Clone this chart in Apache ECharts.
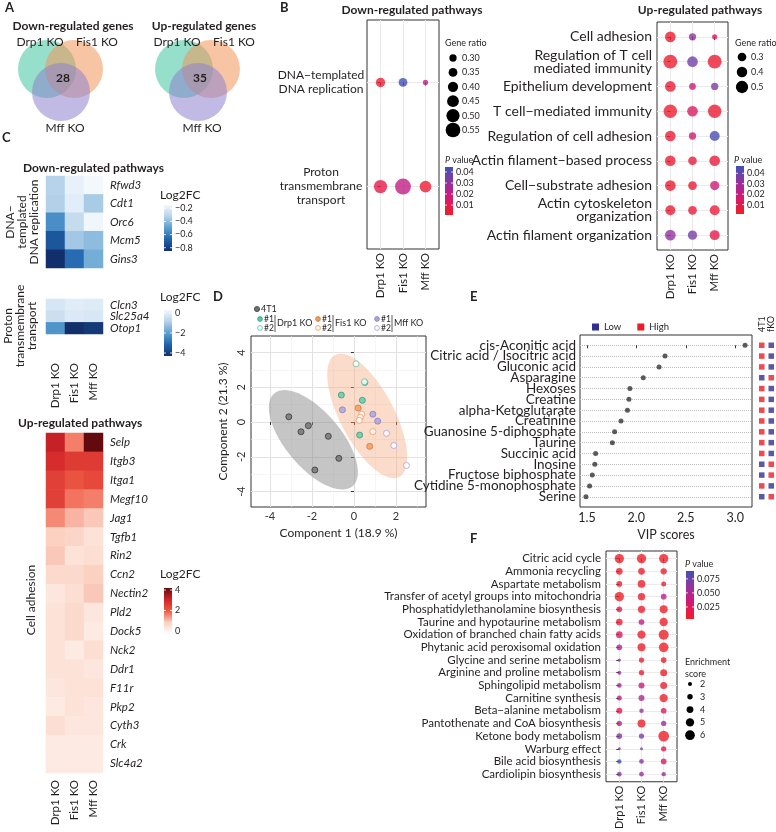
<!DOCTYPE html>
<html><head><meta charset="utf-8">
<script src="https://cdn.jsdelivr.net/npm/echarts@6.0.0/dist/echarts.min.js"></script>
<style>html,body{margin:0;padding:0;background:#fff;}#chart{width:776px;height:832px;}</style>
</head><body><div id="chart"></div>
<script>
// ================= DATA =================
const koGroups = ['Drp1 KO', 'Fis1 KO', 'Mff KO'];

// A: Venn diagrams
const vennTitles = ['Down-regulated genes', 'Up-regulated genes'];
const vennSetNames = ['Drp1 KO', 'Fis1 KO', 'Mff KO'];
const vennShared = [28, 35];

// B: pathway dot plots
const bDownPathways = ['DNA\u2212templated\nDNA replication', 'Proton\ntransmembrane\ntransport'];
const bDownGeneRatio = [[0.37, 0.35, 0.23], [0.50, 0.59, 0.45]];
const bDownPValue = [[0.004, 0.044, 0.022], [0.009, 0.021, 0.004]];
const bDownRatioTicks = [0.30, 0.35, 0.40, 0.45, 0.50, 0.55];
const bDownPTicks = [0.01, 0.02, 0.03, 0.04];

const bUpPathways = ['Cell adhesion', 'Regulation of T cell\nmediated immunity', 'Epithelium development',
  'T cell\u2212mediated immunity', 'Regulation of cell adhesion', 'Actin filament\u2212based process',
  'Cell\u2212substrate adhesion', 'Actin cytoskeleton\norganization', 'Actin filament organization'];
const bUpGeneRatio = [[0.41, 0.22, 0.11], [0.59, 0.41, 0.59], [0.41, 0.19, 0.22], [0.56, 0.41, 0.56],
  [0.41, 0.22, 0.37], [0.41, 0.30, 0.41], [0.41, 0.30, 0.33], [0.37, 0.30, 0.37], [0.41, 0.33, 0.37]];
const bUpPValue = [[0.004, 0.032, 0.012], [0.003, 0.038, 0.004], [0.005, 0.018, 0.036], [0.003, 0.014, 0.004],
  [0.005, 0.016, 0.045], [0.004, 0.006, 0.006], [0.004, 0.006, 0.018], [0.004, 0.005, 0.005], [0.032, 0.037, 0.010]];
const bUpRatioTicks = [0.3, 0.4, 0.5];
const bUpPTicks = [0.01, 0.02, 0.03, 0.04];

// C: heatmaps (Log2FC; columns = koGroups)
const cDnaGroup = 'DNA\u2212\ntemplated\nDNA replication';
const cDnaGenes = ['Rfwd3', 'Cdt1', 'Orc6', 'Mcm5', 'Gins3'];
const cDnaFC = [[-0.32, -0.18, -0.15], [-0.33, -0.20, -0.35], [-0.55, -0.28, -0.16], [-0.72, -0.36, -0.40], [-0.85, -0.65, -0.45]];
const cDnaTicks = [-0.2, -0.4, -0.6, -0.8];
const cProtonGroup = 'Proton\ntransmembrane\ntransport';
const cProtonGenes = ['Clcn3', 'Slc25a4', 'Otop1'];
const cProtonFC = [[-0.25, -0.05, -0.10], [-0.45, -0.15, -0.20], [-2.2, -4.3, -4.1]];
const cProtonTicks = [0, -2, -4];
const cAdhGroup = 'Cell adhesion';
const cAdhGenes = ['Selp', 'Itgb3', 'Itga1', 'Megf10', 'Jag1', 'Tgfb1', 'Rin2', 'Ccn2', 'Nectin2', 'Pld2',
  'Dock5', 'Nck2', 'Ddr1', 'F11r', 'Pkp2', 'Cyth3', 'Crk', 'Slc4a2'];
const cAdhFC = [[3.2, 1.6, 4.2], [2.9, 2.6, 2.6], [2.5, 2.1, 2.3], [2.5, 1.7, 1.6], [1.5, 1.1, 0.9],
  [0.8, 0.7, 0.4], [0.9, 0.4, 0.5], [0.6, 0.6, 0.8], [0.3, 0.5, 0.9], [0.4, 0.6, 0.3], [0.4, 0.6, 0.2],
  [0.4, 0.2, 0.5], [0.4, 0.4, 0.3], [0.3, 0.4, 0.4], [0.2, 0.4, 0.3], [0.5, 0.3, 0.3], [0.2, 0.2, 0.2], [0.2, 0.2, 0.2]];
const cAdhTicks = [4, 2, 0];

// D: PLS-DA scores
const d4T1 = [[-3.10, 0.30], [-2.17, -0.21], [-2.52, -0.56], [-1.22, -0.82], [-0.72, -2.09], [-1.86, -2.76]];
const dDrp1Rep1 = [[-0.60, 1.55], [0.40, 1.25], [0.27, -0.75], [0.52, 2.28]];
const dDrp1Rep2 = [[0.10, 3.35], [0.50, 2.32]];
const dFis1Rep1 = [[0.20, 0.80], [0.75, -1.40]];
const dFis1Rep2 = [[0.37, 0.45], [0.30, 0.28], [0.25, 0.10], [0.90, -0.55]];
const dMffRep1 = [[-0.55, 0.70], [0.90, 0.45], [1.13, 0.05]];
const dMffRep2 = [[1.55, -0.65], [1.90, -1.35], [2.50, -2.50]];
const dXTicks = [-4, -2, 0, 2];
const dYTicks = [-4, -2, 0, 2, 4];
const dXTitle = 'Component 1 (18.9 %)';
const dYTitle = 'Component 2 (21.3 %)';

// E: VIP scores
const eMetabolites = ['cis-Aconitic acid', 'Citric acid / Isocitric acid', 'Gluconic acid', 'Asparagine', 'Hexoses',
  'Creatine', 'alpha-Ketoglutarate', 'Creatinine', 'Guanosine 5-diphosphate', 'Taurine', 'Succinic acid',
  'Inosine', 'Fructose biphosphate', 'Cytidine 5-monophosphate', 'Serine'];
const eVip = [3.10, 2.29, 2.23, 2.07, 1.935, 1.925, 1.91, 1.845, 1.78, 1.757, 1.588, 1.58, 1.554, 1.527, 1.49];
const eColumns = ['4T1', 'fKO'];
const e4T1Level = ['High', 'High', 'High', 'Low', 'High', 'High', 'High', 'High', 'High', 'High', 'High', 'Low', 'Low', 'High', 'Low'];
const eKOLevel = ['Low', 'Low', 'Low', 'High', 'Low', 'Low', 'Low', 'Low', 'Low', 'Low', 'Low', 'High', 'High', 'Low', 'High'];
const eLevels = ['Low', 'High'];
const eXTicks = [1.5, 2.0, 2.5, 3.0];
const eXTitle = 'VIP scores';

// F: metabolite pathway enrichment
const fPathways = ['Citric acid cycle', 'Ammonia recycling', 'Aspartate metabolism', 'Transfer of acetyl groups into mitochondria',
  'Phosphatidylethanolamine biosynthesis', 'Taurine and hypotaurine metabolism', 'Oxidation of branched chain fatty acids',
  'Phytanic acid peroxisomal oxidation', 'Glycine and serine metabolism', 'Arginine and proline metabolism',
  'Sphingolipid metabolism', 'Carnitine synthesis', 'Beta\u2212alanine metabolism', 'Pantothenate and CoA biosynthesis',
  'Ketone body metabolism', 'Warburg effect', 'Bile acid biosynthesis', 'Cardiolipin biosynthesis'];
const fEnrich = [[5.7, 5.7, 5.7], [3.9, 3.9, 3.6], [3.2, 4.6, 2.7], [5.7, 4.3, 3.2], [3.2, 4.3, 4.8], [3.9, 3.2, 5.0],
  [3.9, 5.0, 6.2], [3.2, 4.8, 6.0], [1.5, 2.9, 3.2], [2.0, 2.9, 4.1], [2.5, 3.4, 4.1], [2.7, 3.4, 5.0],
  [3.4, 2.3, 3.2], [2.9, 4.8, 2.9], [3.2, 2.9, 6.7], [1.2, 1.3, 2.9], [2.3, 2.5, 3.2], [2.5, 2.5, 2.3]];
const fPValue = [[0.004, 0.004, 0.004], [0.005, 0.005, 0.005], [0.006, 0.005, 0.012], [0.004, 0.005, 0.045],
  [0.020, 0.006, 0.005], [0.010, 0.042, 0.004], [0.025, 0.006, 0.004], [0.052, 0.006, 0.004], [0.062, 0.008, 0.008],
  [0.060, 0.008, 0.006], [0.055, 0.038, 0.008], [0.045, 0.050, 0.006], [0.020, 0.058, 0.028], [0.050, 0.006, 0.058],
  [0.065, 0.070, 0.004], [0.065, 0.070, 0.022], [0.085, 0.065, 0.030], [0.065, 0.060, 0.060]];
const fPTicks = [0.025, 0.050, 0.075];
const fEnrichTicks = [2, 3, 4, 5, 6];

// ================= STYLE / LAYOUT =================
const FONT = 'Lato, "Open Sans", sans-serif';
const TXT = '#231f20';
const pColors = ['#ee1f27', '#e61a4c', '#cc1a7e', '#a52a97', '#7440a6', '#3f51b5'];
const blues = ['#132f6b', '#1f63ad', '#5a9fd0', '#b5d2ea', '#f3f8fd'];
const reds = ['#ffffff', '#fbd0c0', '#ef5a44', '#d1242a', '#620a0e'];
const bDownSize = r => 7.3 + (r - 0.30) * 29.6;
const bUpSize = r => 8.7 + (r - 0.30) * 18;
const fSize = s => 4 + (s - 2) * 1.43;

const G = [];
function txt(x, y, text, o = {}) {
  const st = {text, fill: o.color || TXT, fontSize: o.size || 12, fontFamily: FONT, fontWeight: o.weight || 'normal',
    fontStyle: o.style || 'normal', align: o.align || 'left', verticalAlign: o.va || 'middle'};
  if (o.lineHeight) st.lineHeight = o.lineHeight;
  if (o.rich) st.rich = o.rich;
  G.push({type: 'text', x, y, rotation: o.rot || 0, style: st, silent: true, z: 100});
}
function colorbar(x, y, w, h, min, max, colors, ticks, fmt) {
  G.push({type: 'rect', shape: {x, y, width: w, height: h}, silent: true, z: 100,
    style: {fill: {type: 'linear', x: 0, y: 1, x2: 0, y2: 0, global: false,
      colorStops: colors.map((c, i) => ({offset: i / (colors.length - 1), color: c}))}}});
  ticks.forEach(t => {
    const ty = y + h - (t - min) / (max - min) * h;
    G.push({type: 'line', shape: {x1: x, y1: ty, x2: x + 2, y2: ty}, style: {stroke: '#fff', lineWidth: 0.8}, silent: true, z: 101});
    G.push({type: 'line', shape: {x1: x + w - 2, y1: ty, x2: x + w, y2: ty}, style: {stroke: '#fff', lineWidth: 0.8}, silent: true, z: 101});
    txt(x + w + 3, ty, fmt(t), {size: 9});
  });
}
function sizeLegend(x, y0, step, ticks, sizeFn, labelX, fmt) {
  ticks.forEach((t, i) => {
    const y = y0 + i * step;
    G.push({type: 'circle', shape: {cx: x, cy: y, r: sizeFn(t) / 2}, style: {fill: '#000'}, silent: true, z: 100});
    txt(labelX, y, fmt(t), {size: 9});
  });
}

// ---------- panel letters & titles ----------
txt(5, 8, 'A', {weight: 'bold', size: 13});
txt(280, 8, 'B', {weight: 'bold', size: 13});
txt(2, 138, 'C', {weight: 'bold', size: 13});
txt(213, 297, 'D', {weight: 'bold', size: 13});
txt(470, 297, 'E', {weight: 'bold', size: 13});
txt(470, 539, 'F', {weight: 'bold', size: 13});
txt(412, 10, 'Down-regulated pathways', {weight: 'bold', size: 12, align: 'center'});
txt(700, 10, 'Up-regulated pathways', {weight: 'bold', size: 12, align: 'center'});
txt(23, 168, 'Down-regulated pathways', {weight: 'bold', size: 12});
txt(18, 423, 'Up-regulated pathways', {weight: 'bold', size: 12});

// ---------- A: Venn ----------
const vennFills = ['rgba(64,196,160,0.55)', 'rgba(242,150,90,0.55)', 'rgba(140,130,205,0.55)'];
[0, 1].forEach(k => {
  const ox = k * 137;
  const centres = [[47 + ox, 69], [74 + ox, 69], [61 + ox, 92]];
  centres.forEach((c, i) => G.push({type: 'circle', shape: {cx: c[0], cy: c[1], r: 29}, style: {fill: vennFills[i]}, silent: true, z: 50}));
  txt(k === 0 ? 73 : 204, 26, vennTitles[k], {weight: 'bold', size: 12, align: 'center'});
  txt(40 + ox, 42, vennSetNames[0], {align: 'center', size: 12});
  txt(97 + ox, 42, vennSetNames[1], {align: 'center', size: 12});
  txt(65 + ox, 128, vennSetNames[2], {align: 'center', size: 12});
  txt(63 + ox, 78, String(vennShared[k]), {weight: 'bold', size: 12, align: 'center'});
});

// ---------- B legends ----------
txt(445, 43, 'Gene ratio', {size: 9});
sizeLegend(453, 58, 14.4, bDownRatioTicks, bDownSize, 462, v => v.toFixed(2));
txt(445, 160, '{i|P} value', {size: 9, rich: {i: {fontStyle: 'italic', fontSize: 9, fontFamily: FONT}}});
colorbar(445, 167, 8, 48, 0.001, 0.0445, pColors, bDownPTicks, v => v.toFixed(2));
txt(735, 43, 'Gene ratio', {size: 9});
sizeLegend(742, 57, 15, bUpRatioTicks, bUpSize, 751, v => v.toFixed(1));
txt(734, 160, '{i|P} value', {size: 9, rich: {i: {fontStyle: 'italic', fontSize: 9, fontFamily: FONT}}});
colorbar(736, 166, 8, 48, 0.001, 0.047, pColors, bUpPTicks, v => v.toFixed(2));

// ---------- C legends / group labels ----------
txt(22, 222, cDnaGroup, {rot: Math.PI / 2, align: 'center', size: 12, lineHeight: 12});
txt(20, 326, cProtonGroup, {rot: Math.PI / 2, align: 'center', size: 12, lineHeight: 12});
txt(31, 600, cAdhGroup, {rot: Math.PI / 2, align: 'center', size: 12});
txt(160, 195, 'Log2FC', {size: 12});
colorbar(164, 205, 8, 46, -0.85, -0.15, blues, cDnaTicks, v => v.toFixed(1).replace('-', '\u2212'));
txt(160, 297, 'Log2FC', {size: 12});
colorbar(164, 310, 8, 46, -4.3, 0.3, blues, cProtonTicks, v => String(v).replace('-', '\u2212'));
txt(160, 574, 'Log2FC', {size: 12});
colorbar(164, 588, 8, 46, -0.3, 4.2, reds, cAdhTicks, v => String(v));

// ---------- D legend ----------
G.push({type: 'circle', shape: {cx: 257, cy: 309, r: 2.6}, style: {fill: '#707070', stroke: '#444', lineWidth: 0.8}, silent: true, z: 100});
txt(261, 309, '4T1', {size: 9});
const dLegendGroups = [['Drp1 KO', 260, '#60c9a8', '#2f9e7f'], ['Fis1 KO', 318, '#f19a5e', '#d9773a'], ['Mff KO', 377, '#a9a3dc', '#8780c6']];
dLegendGroups.forEach(g => {
  const x = g[1];
  G.push({type: 'circle', shape: {cx: x, cy: 319, r: 2.4}, style: {fill: g[2], stroke: g[3], lineWidth: 0.8}, silent: true, z: 100});
  G.push({type: 'circle', shape: {cx: x, cy: 328, r: 2.4}, style: {fill: '#fff', stroke: g[2], lineWidth: 0.9}, silent: true, z: 100});
  txt(x + 4, 319, '#1', {size: 8.5});
  txt(x + 4, 328, '#2', {size: 8.5});
  G.push({type: 'line', shape: {x1: x + 15, y1: 315, x2: x + 15, y2: 332}, style: {stroke: '#333', lineWidth: 0.8}, silent: true, z: 100});
  txt(x + 17, 323, g[0], {size: 9});
});

// ---------- F legends ----------
txt(685, 564, '{i|P} value', {size: 9, rich: {i: {fontStyle: 'italic', fontSize: 9, fontFamily: FONT}}});
colorbar(686, 571, 8, 48, 0.0036, 0.089, pColors, fPTicks, v => v.toFixed(3));
txt(685, 662, 'Enrichment', {size: 9});
txt(685, 674, 'score', {size: 9});
sizeLegend(690, 684, 12.8, fEnrichTicks, fSize, 700, v => String(v));

// ================= AXES =================
const E_ROW = 10.82;                       // E row pitch (px)
const grids = [
  {left: 367, top: 20, width: 72, height: 229},   // 0 B down
  {left: 657, top: 22, width: 71, height: 228},   // 1 B up
  {left: 606, top: 551, width: 71, height: 233},  // 2 F
  {left: 46, top: 176, width: 57, height: 92},    // 3 C dna
  {left: 46, top: 299, width: 57, height: 35},    // 4 C proton
  {left: 46, top: 433, width: 57, height: 340},   // 5 C adhesion
  {left: 251, top: 336, width: 175, height: 171}, // 6 D
  {left: 580, top: 335, width: 172, height: 172}, // 7 E (box, points)
  {left: 757, top: 335, width: 21, height: 172},  // 8 E squares
  {left: 580, top: 335 + 0.95 * E_ROW, width: 172, height: 14 * E_ROW} // 9 E row labels + dotted guides
];
grids.forEach((g, i) => {
  if ([0, 1, 2, 6, 7].includes(i)) { g.show = true; g.borderColor = '#333'; g.borderWidth = 1; g.backgroundColor = 'transparent'; }
});

const LBL = {showMinLabel: true, showMaxLabel: true, hideOverlap: false};
function dotX(gi, fs) {
  return {type: 'value', gridIndex: gi, min: -0.6, max: 2.6,
    axisLine: {show: false},
    axisTick: {show: true, length: 3, lineStyle: {color: '#333'}, customValues: [0, 1, 2]},
    axisLabel: Object.assign({customValues: [0, 1, 2], formatter: v => koGroups[Math.round(v)], rotate: 90, fontSize: fs, color: TXT, fontFamily: FONT, margin: 4}, LBL),
    splitLine: {show: true, lineStyle: {color: '#ebebeb', width: 1}}};
}
function dotY(gi, names, fs, extraLabel) {
  const idx = names.map((_, i) => i);
  return {type: 'value', gridIndex: gi, min: -0.6, max: names.length - 0.4, inverse: true,
    axisLine: {show: false},
    axisTick: {show: true, length: 3, lineStyle: {color: '#333'}, customValues: idx},
    axisLabel: Object.assign({customValues: idx, formatter: v => names[Math.round(v)], fontSize: fs, color: TXT, fontFamily: FONT, margin: 5}, LBL, extraLabel || {}),
    splitLine: {show: true, lineStyle: {color: '#ebebeb', width: 1}}};
}
function heatX(gi, show, margin) {
  return {type: 'category', gridIndex: gi, data: koGroups, axisLine: {show: false}, axisTick: {show: false}, splitLine: {show: false},
    axisLabel: Object.assign({show: show, rotate: 90, interval: 0, fontSize: 11.5, color: TXT, fontFamily: FONT, margin: margin}, LBL)};
}
function heatY(gi, genes) {
  return {type: 'category', gridIndex: gi, data: genes, inverse: true, position: 'right', axisLine: {show: false}, axisTick: {show: false},
    axisLabel: Object.assign({interval: 0, fontStyle: 'italic', fontSize: 11.5, color: TXT, fontFamily: FONT, margin: 7}, LBL)};
}

const xAxes = [
  dotX(0, 11.5), dotX(1, 11.5), dotX(2, 11),
  heatX(3, false, 4), heatX(4, true, 29), heatX(5, true, 7),
  {type: 'value', gridIndex: 6, min: -4.9, max: 3.43, name: dXTitle, nameLocation: 'middle', nameGap: 20,
    nameTextStyle: {fontSize: 12, color: TXT, fontFamily: FONT},
    axisLine: {show: false}, axisTick: {show: true, length: 3, lineStyle: {color: '#333'}, customValues: dXTicks},
    axisLabel: Object.assign({customValues: dXTicks, fontSize: 11, color: '#333', fontFamily: FONT, margin: 4}, LBL),
    splitLine: {show: true, lineStyle: {color: '#e2e2e2'}}},
  {type: 'value', gridIndex: 7, min: 1.43, max: 3.17, name: eXTitle, nameLocation: 'middle', nameGap: 21,
    nameTextStyle: {fontSize: 12.5, color: TXT, fontFamily: FONT},
    axisLine: {show: false}, axisTick: {show: true, length: 3, lineStyle: {color: '#333'}, customValues: eXTicks},
    axisLabel: Object.assign({customValues: eXTicks, formatter: v => v.toFixed(1), fontSize: 12.5, color: TXT, fontFamily: FONT, margin: 4}, LBL),
    splitLine: {show: false}},
  {type: 'category', gridIndex: 8, data: eColumns, position: 'top', axisLine: {show: false}, axisTick: {show: false},
    axisLabel: Object.assign({rotate: 90, interval: 0, fontSize: 9, color: TXT, fontFamily: FONT, margin: 3}, LBL)},
  {type: 'value', gridIndex: 9, show: false, min: 0, max: 1}
];
const yAxes = [
  dotY(0, bDownPathways, 12, {align: 'center', margin: 46, lineHeight: 14}),
  dotY(1, bUpPathways, 14, {lineHeight: 13}),
  dotY(2, fPathways, 11.5),
  heatY(3, cDnaGenes), heatY(4, cProtonGenes), heatY(5, cAdhGenes),
  {type: 'value', gridIndex: 6, min: -4.89, max: 4.95, name: dYTitle, nameLocation: 'middle', nameGap: 22,
    nameTextStyle: {fontSize: 12, color: TXT, fontFamily: FONT},
    axisLine: {show: false}, axisTick: {show: true, length: 3, lineStyle: {color: '#333'}, customValues: dYTicks},
    axisLabel: Object.assign({customValues: dYTicks, rotate: 90, fontSize: 11, color: '#333', fontFamily: FONT, margin: 4}, LBL),
    splitLine: {show: true, lineStyle: {color: '#e2e2e2'}}},
  {type: 'value', gridIndex: 7, min: -0.95, max: 14.95, inverse: true,
    axisLine: {show: false}, axisTick: {show: false}, axisLabel: {show: false}, splitLine: {show: false}},
  {type: 'value', gridIndex: 8, min: -0.95, max: 14.95, inverse: true, show: false},
  {type: 'category', gridIndex: 9, data: eMetabolites, inverse: true, boundaryGap: false,
    axisLine: {show: false}, axisTick: {show: false},
    axisLabel: {interval: 0, fontSize: 13.5, color: TXT, fontFamily: FONT, margin: 4},
    splitLine: {show: true, interval: 0, lineStyle: {color: '#bdbdbd', type: 'dotted', width: 1}}}
];

// ================= SERIES =================
const series = [];
function add(s) { series.push(s); return series.length - 1; }
function dotData(vals, ps) { const o = []; vals.forEach((row, i) => row.forEach((v, j) => o.push([j, i, v, ps[i][j]]))); return o; }
function heatData(vals) { const o = []; vals.forEach((row, i) => row.forEach((v, j) => o.push([j, i, v]))); return o; }

const sBd = add({type: 'scatter', xAxisIndex: 0, yAxisIndex: 0, data: dotData(bDownGeneRatio, bDownPValue), symbolSize: v => bDownSize(v[2]), silent: true, z: 5});
const sBu = add({type: 'scatter', xAxisIndex: 1, yAxisIndex: 1, data: dotData(bUpGeneRatio, bUpPValue), symbolSize: v => bUpSize(v[2]), silent: true, z: 5});
const sF = add({type: 'scatter', xAxisIndex: 2, yAxisIndex: 2, data: dotData(fEnrich, fPValue), symbolSize: v => fSize(v[2]), silent: true, z: 5});
const sCd = add({type: 'heatmap', xAxisIndex: 3, yAxisIndex: 3, data: heatData(cDnaFC), silent: true});
const sCp = add({type: 'heatmap', xAxisIndex: 4, yAxisIndex: 4, data: heatData(cProtonFC), silent: true});
const sCa = add({type: 'heatmap', xAxisIndex: 5, yAxisIndex: 5, data: heatData(cAdhFC), silent: true});

// D ellipses (95% confidence, computed from the scores)
function ellipse(pts, scale) {
  const m = pts.length;
  const mx = pts.reduce((s, p) => s + p[0], 0) / m, my = pts.reduce((s, p) => s + p[1], 0) / m;
  let sxx = 0, syy = 0, sxy = 0;
  pts.forEach(p => { const dx = p[0] - mx, dy = p[1] - my; sxx += dx * dx; syy += dy * dy; sxy += dx * dy; });
  sxx /= (m - 1); syy /= (m - 1); sxy /= (m - 1);
  const tr = sxx + syy, det = sxx * syy - sxy * sxy, disc = Math.sqrt(Math.max(tr * tr / 4 - det, 0));
  const l1 = tr / 2 + disc, l2 = Math.max(tr / 2 - disc, 0);
  const a = Math.atan2(l1 - sxx, sxy);
  const out = [];
  for (let k = 0; k < 90; k++) {
    const t = k / 90 * 2 * Math.PI;
    const u = scale * Math.sqrt(l1) * Math.cos(t), w = scale * Math.sqrt(l2) * Math.sin(t);
    out.push([mx + u * Math.cos(a) - w * Math.sin(a), my + u * Math.sin(a) + w * Math.cos(a)]);
  }
  return {centre: [mx, my], pts: out};
}
const CHI = Math.sqrt(5.991);
const ell4T1 = ellipse(d4T1, CHI);
const ellKO = ellipse([].concat(dDrp1Rep1, dDrp1Rep2, dFis1Rep1, dFis1Rep2, dMffRep1, dMffRep2), CHI);
function ellSeries(e, fill) {
  return {type: 'custom', xAxisIndex: 6, yAxisIndex: 6, data: [e.centre], silent: true, z: 1, clip: true,
    renderItem: (params, api) => ({type: 'polygon', shape: {points: e.pts.map(p => api.coord(p))}, style: {fill: fill}})};
}
add(ellSeries(ell4T1, 'rgba(140,140,140,0.5)'));
add(ellSeries(ellKO, 'rgba(244,165,120,0.4)'));
const minorD = [-3, -1, 1, 3].map(v => ({xAxis: v})).concat([-3, -1, 1, 3].map(v => ({yAxis: v})));
function dScatter(data, fill, stroke, z, extra) {
  return Object.assign({type: 'scatter', xAxisIndex: 6, yAxisIndex: 6, data, symbolSize: 6, silent: true, z: z,
    itemStyle: {color: fill, borderColor: stroke, borderWidth: 1}}, extra || {});
}
add(dScatter(d4T1, '#707070', '#3a3a3a', 5, {markLine: {silent: true, symbol: 'none', label: {show: false},
  lineStyle: {color: '#f0f0f0', width: 0.6, type: 'solid'}, data: minorD, z: 0}}));
add(dScatter(dDrp1Rep1, '#60c9a8', '#2f9e7f', 5));
add(dScatter(dDrp1Rep2, '#ffffff', '#60c9a8', 6));
add(dScatter(dFis1Rep1, '#f19a5e', '#d9773a', 5));
add(dScatter(dFis1Rep2, '#ffffff', '#f19a5e', 6));
add(dScatter(dMffRep1, '#a9a3dc', '#8780c6', 5));
add(dScatter(dMffRep2, '#ffffff', '#a9a3dc', 6));

// E
add({type: 'scatter', xAxisIndex: 7, yAxisIndex: 7, data: eVip.map((v, i) => [v, i]), symbolSize: 5, silent: true,
  itemStyle: {color: '#333'}, z: 5});
const eSqData = [];
eMetabolites.forEach((_, i) => {
  eSqData.push([0, i, eLevels.indexOf(e4T1Level[i])]);
  eSqData.push([1, i, eLevels.indexOf(eKOLevel[i])]);
});
const sEsq = add({type: 'scatter', xAxisIndex: 8, yAxisIndex: 8, data: eSqData, symbol: 'rect', symbolSize: 5.5, silent: true, z: 5});

// ================= VISUAL MAPS =================
const visualMap = [
  {type: 'continuous', show: false, seriesIndex: sBd, dimension: 3, min: 0.001, max: 0.0445, inRange: {color: pColors}},
  {type: 'continuous', show: false, seriesIndex: sBu, dimension: 3, min: 0.001, max: 0.047, inRange: {color: pColors}},
  {type: 'continuous', show: false, seriesIndex: sF, dimension: 3, min: 0.0036, max: 0.089, inRange: {color: pColors}},
  {type: 'continuous', show: false, seriesIndex: sCd, dimension: 2, min: -0.85, max: -0.15, inRange: {color: blues}},
  {type: 'continuous', show: false, seriesIndex: sCp, dimension: 2, min: -4.3, max: 0.3, inRange: {color: blues}},
  {type: 'continuous', show: false, seriesIndex: sCa, dimension: 2, min: -0.3, max: 4.2, inRange: {color: reds}},
  {type: 'piecewise', seriesIndex: sEsq, dimension: 2, orient: 'horizontal', left: 577, top: 307,
    itemWidth: 7, itemHeight: 7, itemGap: 16, itemSymbol: 'rect', selectedMode: false, showLabel: true,
    textGap: 5, textStyle: {fontSize: 9.5, color: TXT, fontFamily: FONT},
    pieces: eLevels.map((l, i) => ({value: i, label: l, color: i === 0 ? '#2e3192' : '#ed1c24'}))}
];

const chart = echarts.init(document.getElementById('chart'), null, {renderer: 'canvas', width: 776, height: 832});
chart.setOption({
  animation: false,
  backgroundColor: '#fff',
  textStyle: {fontFamily: FONT, color: TXT},
  grid: grids, xAxis: xAxes, yAxis: yAxes, visualMap: visualMap, series: series,
  graphic: {elements: G}
});
</script></body></html>
